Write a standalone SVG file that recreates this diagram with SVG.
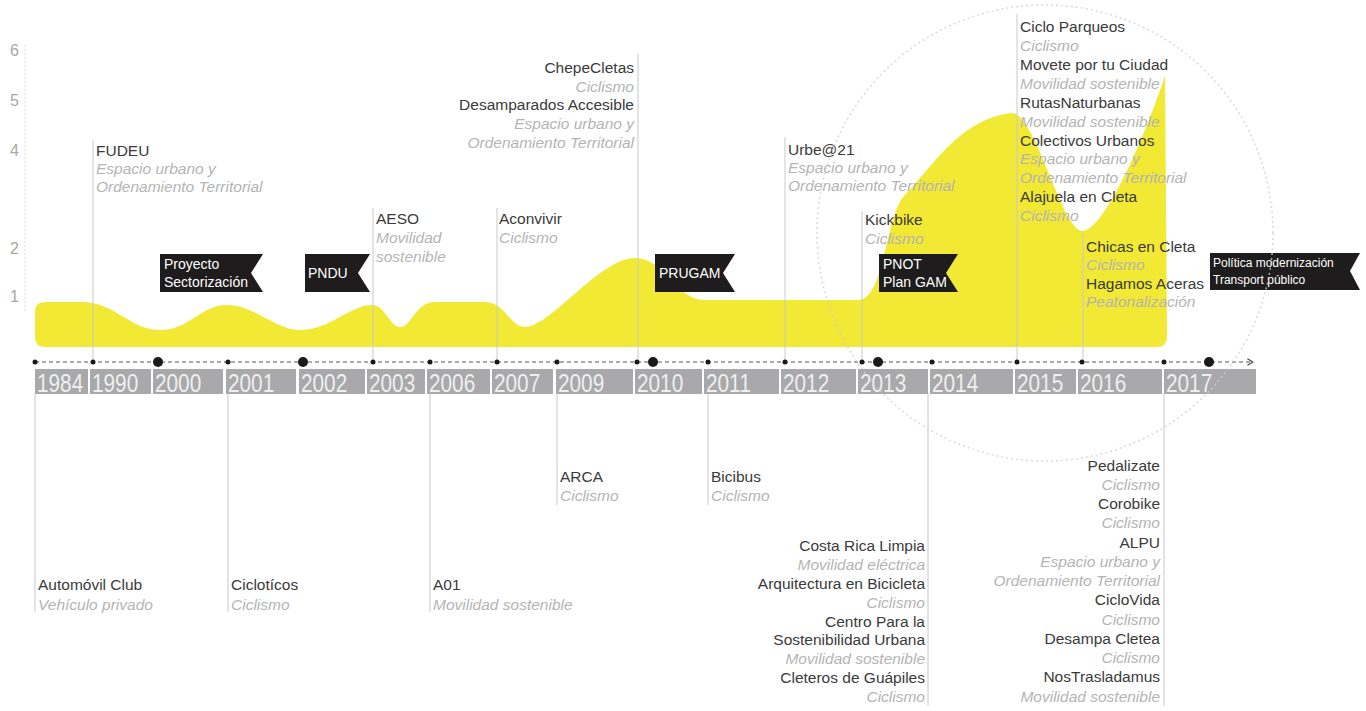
<svg xmlns="http://www.w3.org/2000/svg" width="1366" height="711" viewBox="0 0 1366 711">
<defs>
<style>
.t{font-family:"Liberation Sans",Arial,sans-serif;font-size:15.5px;fill:#3a3a3a}
.s{font-family:"Liberation Sans",Arial,sans-serif;font-size:15.5px;font-style:italic;fill:#b4b4b4}
.r{text-anchor:end}
.f{font-family:"Liberation Sans",Arial,sans-serif;font-size:14px;fill:#ffffff}
.fs{font-family:"Liberation Sans",Arial,sans-serif;font-size:12px;fill:#ffffff}
.yr{font-family:"Liberation Sans",Arial,sans-serif;font-size:26px;fill:#efefef}
.ax{font-family:"Liberation Sans",Arial,sans-serif;font-size:16px;fill:#a8a8a8}
.bar{fill:#a9a9ab}
.flag{fill:#1e1c1c}
.vl{stroke:#c9c9c9;stroke-width:1;fill:none}
.dot{fill:#1a1a1a}
</style>
<marker id="chev" viewBox="0 0 10 10" refX="9" refY="5" markerWidth="8" markerHeight="8" orient="auto" markerUnits="userSpaceOnUse">
<path d="M2,1 L9,5 L2,9" fill="none" stroke="#444" stroke-width="1.5"/>
</marker>
</defs>
<rect width="1366" height="711" fill="#ffffff"/>

<!-- y axis -->
<g id="yaxis">
<line x1="25" y1="45" x2="25" y2="312" stroke="#dcdcdc" stroke-width="1" stroke-dasharray="2 2"/>
<text class="ax" x="10" y="56">6</text>
<text class="ax" x="10" y="106">5</text>
<text class="ax" x="10" y="156">4</text>
<text class="ax" x="10" y="254">2</text>
<text class="ax" x="10" y="302">1</text>
</g>

<!-- yellow area -->
<g id="area">
<path fill="#f2e935" d="M35,337 L35,312 Q35,302 45,302 L82,302 C115,302 130,330 160,330 C190,330 200,305 227,305 C255,305 275,330 300,330 C330,330 350,305 372,305 C385,305 390,327 400,327 C412,327 415,302 435,302 L485,302 C505,302 510,327 525,327 C550,327 600,258 635,258 C665,258 675,300 705,300 L858,300 C885,300 885,215 905,195 C930,170 960,118 1012,113 C1035,113 1062,230 1082,231 C1102,232 1140,150 1165,76 L1167,337 Q1167,347 1157,347 L45,347 Q35,347 35,337 Z"/>
</g>

<!-- connectors -->
<g id="connectors">
<g class="vl">
<line x1="93" y1="140" x2="93" y2="362"/>
<line x1="373" y1="208" x2="373" y2="362"/>
<line x1="497" y1="208" x2="497" y2="362"/>
<line x1="638" y1="54" x2="638" y2="362"/>
<line x1="785" y1="137" x2="785" y2="362"/>
<line x1="862" y1="211" x2="862" y2="362"/>
<line x1="1017" y1="14" x2="1017" y2="362"/>
<line x1="1083" y1="234" x2="1083" y2="362"/>
<line x1="35" y1="393" x2="35" y2="612"/>
<line x1="228" y1="393" x2="228" y2="612"/>
<line x1="430" y1="393" x2="430" y2="612"/>
<line x1="557" y1="393" x2="557" y2="505"/>
<line x1="708" y1="393" x2="708" y2="505"/>
<line x1="928" y1="393" x2="928" y2="706"/>
<line x1="1164" y1="393" x2="1164" y2="706"/>
</g>
<line x1="35" y1="362" x2="1253" y2="362" stroke="#555" stroke-width="1" stroke-dasharray="4 3" marker-end="url(#chev)"/>
<g class="dot">
<circle cx="35" cy="362" r="2.5"/><circle cx="93" cy="362" r="2.5"/><circle cx="228" cy="362" r="2.5"/>
<circle cx="373" cy="362" r="2.5"/><circle cx="430" cy="362" r="2.5"/><circle cx="497" cy="362" r="2.5"/>
<circle cx="557" cy="362" r="2.5"/><circle cx="637" cy="362" r="2.5"/><circle cx="708" cy="362" r="2.5"/>
<circle cx="785" cy="362" r="2.5"/><circle cx="862" cy="362" r="2.5"/><circle cx="932" cy="362" r="2.5"/>
<circle cx="1017" cy="362" r="2.5"/><circle cx="1082" cy="362" r="2.5"/><circle cx="1164" cy="362" r="2.5"/>
<circle cx="158" cy="362" r="5"/><circle cx="303" cy="362" r="5"/><circle cx="653" cy="362" r="5"/>
<circle cx="878" cy="362" r="5"/><circle cx="1209" cy="362" r="5"/>
</g>
</g>

<!-- year bars -->
<g id="years">
<rect class="bar" x="35" y="369" width="53" height="25"/>
<rect class="bar" x="90" y="369" width="61" height="25"/>
<rect class="bar" x="153" y="369" width="70" height="25"/>
<rect class="bar" x="226" y="369" width="70" height="25"/>
<rect class="bar" x="299" y="369" width="66" height="25"/>
<rect class="bar" x="367" y="369" width="58" height="25"/>
<rect class="bar" x="427" y="369" width="63" height="25"/>
<rect class="bar" x="492" y="369" width="61" height="25"/>
<rect class="bar" x="556" y="369" width="77" height="25"/>
<rect class="bar" x="635" y="369" width="67" height="25"/>
<rect class="bar" x="704" y="369" width="75" height="25"/>
<rect class="bar" x="781" y="369" width="75" height="25"/>
<rect class="bar" x="858" y="369" width="70" height="25"/>
<rect class="bar" x="930" y="369" width="83" height="25"/>
<rect class="bar" x="1015" y="369" width="61" height="25"/>
<rect class="bar" x="1078" y="369" width="84" height="25"/>
<rect class="bar" x="1164" y="369" width="92" height="25"/>
<text class="yr" transform="translate(37,392) scale(0.8,1)">1984</text>
<text class="yr" transform="translate(92,392) scale(0.8,1)">1990</text>
<text class="yr" transform="translate(155,392) scale(0.8,1)">2000</text>
<text class="yr" transform="translate(228,392) scale(0.8,1)">2001</text>
<text class="yr" transform="translate(301,392) scale(0.8,1)">2002</text>
<text class="yr" transform="translate(369,392) scale(0.8,1)">2003</text>
<text class="yr" transform="translate(429,392) scale(0.8,1)">2006</text>
<text class="yr" transform="translate(494,392) scale(0.8,1)">2007</text>
<text class="yr" transform="translate(558,392) scale(0.8,1)">2009</text>
<text class="yr" transform="translate(637,392) scale(0.8,1)">2010</text>
<text class="yr" transform="translate(706,392) scale(0.8,1)">2011</text>
<text class="yr" transform="translate(783,392) scale(0.8,1)">2012</text>
<text class="yr" transform="translate(860,392) scale(0.8,1)">2013</text>
<text class="yr" transform="translate(932,392) scale(0.8,1)">2014</text>
<text class="yr" transform="translate(1017,392) scale(0.8,1)">2015</text>
<text class="yr" transform="translate(1080,392) scale(0.8,1)">2016</text>
<text class="yr" transform="translate(1166,392) scale(0.8,1)">2017</text>
</g>

<!-- flags -->
<g id="flag-proyecto">
<path class="flag" d="M160,254 H263 L251,273 L263,292 H160 Z"/>
<text class="f" x="164" y="269">Proyecto</text>
<text class="f" x="164" y="287">Sectorización</text>
</g>
<g id="flag-pndu">
<path class="flag" d="M305,254 H370 L358,273 L370,292 H305 Z"/>
<text class="f" x="308" y="278">PNDU</text>
</g>
<g id="flag-prugam">
<path class="flag" d="M655,254 H735 L723,273 L735,292 H655 Z"/>
<text class="f" x="659" y="278">PRUGAM</text>
</g>
<g id="flag-pnot">
<path class="flag" d="M879,254 H958 L946,273 L958,292 H879 Z"/>
<text class="f" x="883" y="269">PNOT</text>
<text class="f" x="883" y="287">Plan GAM</text>
</g>
<g id="flag-politica">
<path class="flag" d="M1210,253 H1360 L1350,271 L1360,290 H1210 Z"/>
<text class="fs" x="1213" y="267">Política modernización</text>
<text class="fs" x="1213" y="284">Transport público</text>
</g>

<!-- top nodes -->
<g id="n-fudeu">
<text class="t" x="96" y="156">FUDEU</text>
<text class="s" x="96" y="174">Espacio urbano y</text>
<text class="s" x="96" y="192">Ordenamiento Territorial</text>
</g>
<g id="n-aeso">
<text class="t" x="376" y="224">AESO</text>
<text class="s" x="376" y="243">Movilidad</text>
<text class="s" x="376" y="262">sostenible</text>
</g>
<g id="n-aconvivir">
<text class="t" x="499" y="224">Aconvivir</text>
<text class="s" x="499" y="243">Ciclismo</text>
</g>
<g id="n-chepecletas">
<text class="t r" x="634" y="73">ChepeCletas</text>
<text class="s r" x="634" y="92">Ciclismo</text>
<text class="t r" x="634" y="110">Desamparados Accesible</text>
<text class="s r" x="634" y="129">Espacio urbano y</text>
<text class="s r" x="634" y="148">Ordenamiento Territorial</text>
</g>
<g id="n-urbe">
<text class="t" x="788" y="155">Urbe@21</text>
<text class="s" x="788" y="173">Espacio urbano y</text>
<text class="s" x="788" y="191">Ordenamiento Territorial</text>
</g>
<g id="n-kickbike">
<text class="t" x="865" y="225">Kickbike</text>
<text class="s" x="865" y="244">Ciclismo</text>
</g>
<g id="n-ciclo">
<text class="t" x="1020" y="32">Ciclo Parqueos</text>
<text class="s" x="1020" y="51">Ciclismo</text>
<text class="t" x="1020" y="70">Movete por tu Ciudad</text>
<text class="s" x="1020" y="89">Movilidad sostenible</text>
<text class="t" x="1020" y="108">RutasNaturbanas</text>
<text class="s" x="1020" y="127">Movilidad sostenible</text>
<text class="t" x="1020" y="146">Colectivos Urbanos</text>
<text class="s" x="1020" y="164">Espacio urbano y</text>
<text class="s" x="1020" y="183">Ordenamiento Territorial</text>
<text class="t" x="1020" y="202">Alajuela en Cleta</text>
<text class="s" x="1020" y="221">Ciclismo</text>
</g>
<g id="n-chicas">
<text class="t" x="1086" y="252">Chicas en Cleta</text>
<text class="s" x="1086" y="270">Ciclismo</text>
<text class="t" x="1086" y="289">Hagamos Aceras</text>
<text class="s" x="1086" y="307">Peatonalización</text>
</g>

<!-- bottom nodes -->
<g id="n-automovil">
<text class="t" x="38" y="590">Automóvil Club</text>
<text class="s" x="38" y="610">Vehículo privado</text>
</g>
<g id="n-cicloticos">
<text class="t" x="231" y="590">Ciclotícos</text>
<text class="s" x="231" y="610">Ciclismo</text>
</g>
<g id="n-a01">
<text class="t" x="433" y="590">A01</text>
<text class="s" x="433" y="610">Movilidad sostenible</text>
</g>
<g id="n-arca">
<text class="t" x="560" y="482">ARCA</text>
<text class="s" x="560" y="501">Ciclismo</text>
</g>
<g id="n-bicibus">
<text class="t" x="711" y="482">Bicibus</text>
<text class="s" x="711" y="501">Ciclismo</text>
</g>
<g id="n-costarica">
<text class="t r" x="925" y="551">Costa Rica Limpia</text>
<text class="s r" x="925" y="570">Movilidad eléctrica</text>
<text class="t r" x="925" y="589">Arquitectura en Bicicleta</text>
<text class="s r" x="925" y="608">Ciclismo</text>
<text class="t r" x="925" y="627">Centro Para la</text>
<text class="t r" x="925" y="645">Sostenibilidad Urbana</text>
<text class="s r" x="925" y="664">Movilidad sostenible</text>
<text class="t r" x="925" y="683">Cleteros de Guápiles</text>
<text class="s r" x="925" y="702">Ciclismo</text>
</g>
<g id="n-pedalizate">
<text class="t r" x="1160" y="471">Pedalizate</text>
<text class="s r" x="1160" y="490">Ciclismo</text>
<text class="t r" x="1160" y="509">Corobike</text>
<text class="s r" x="1160" y="528">Ciclismo</text>
<text class="t r" x="1160" y="548">ALPU</text>
<text class="s r" x="1160" y="567">Espacio urbano y</text>
<text class="s r" x="1160" y="586">Ordenamiento Territorial</text>
<text class="t r" x="1160" y="605">CicloVida</text>
<text class="s r" x="1160" y="625">Ciclismo</text>
<text class="t r" x="1160" y="644">Desampa Cletea</text>
<text class="s r" x="1160" y="663">Ciclismo</text>
<text class="t r" x="1160" y="682">NosTrasladamus</text>
<text class="s r" x="1160" y="702">Movilidad sostenible</text>
</g>

<!-- highlight circle -->
<g id="circle">
<circle cx="1045" cy="233" r="228" fill="none" stroke="#cfcfcf" stroke-width="1.5" stroke-dasharray="2 3" opacity="0.8"/>
</g>
</svg>
